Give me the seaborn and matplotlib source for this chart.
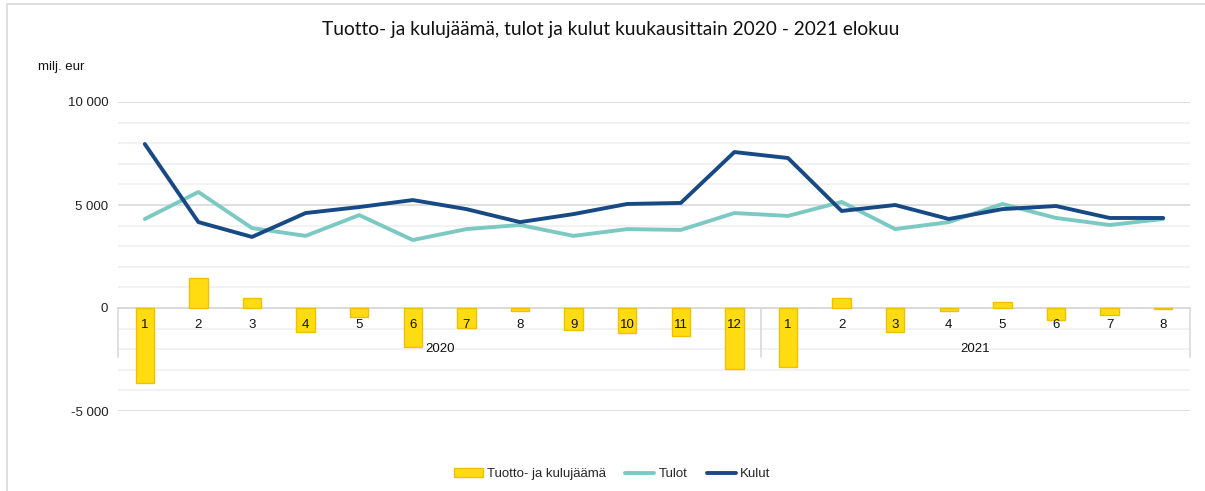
import matplotlib
matplotlib.use("Agg")
import matplotlib.pyplot as plt
import matplotlib.ticker as mticker
from matplotlib.lines import Line2D
from matplotlib.patches import Patch, Rectangle
import numpy as np
import pandas as pd
import seaborn as sns

# ---- data (milj. eur) ----
years = ["2020"] * 12 + ["2021"] * 8
months = [str(m) for m in range(1, 13)] + [str(m) for m in range(1, 9)]
saldo = [-3640, 1460, 470, -1150, -440, -1900, -970, -150, -1070, -1210, -1350, -2960,
         -2860, 480, -1160, -150, 280, -580, -340, -60]
tulot = [4320, 5630, 3880, 3500, 4510, 3300, 3830, 4030, 3500, 3830, 3790, 4610,
         4470, 5150, 3830, 4170, 5050, 4370, 4030, 4320]
kulut = [7960, 4170, 3450, 4610, 4900, 5240, 4800, 4170, 4560, 5050, 5100, 7570,
         7280, 4710, 5000, 4320, 4800, 4950, 4370, 4370]
yticks = [-5000, 0, 5000, 10000]
title = "Tuotto- ja kulujäämä, tulot ja kulut kuukausittain 2020 - 2021 elokuu"
unit = "milj. eur"
legend_labels = ["Tuotto- ja kulujäämä", "Tulot", "Kulut"]

df = pd.DataFrame({"year": years, "month": months, "saldo": saldo,
                   "tulot": tulot, "kulut": kulut})
df["key"] = df["year"] + "-" + df["month"]
df["pos"] = np.arange(len(df))

C_BAR = "#FFDC12"
C_BAR_EDGE = "#F0C000"
C_TULOT = "#7CC9C4"
C_KULUT = "#174A84"
C_GRID = "#D9D9D9"
C_MINOR = "#F0F0F0"

sns.set_theme(style="white")
plt.rcParams["font.family"] = ["Liberation Sans", "DejaVu Sans"]

fig = plt.figure(figsize=(12.05, 4.91), dpi=100)
ax = fig.add_axes([118 / 1205, 1 - 411 / 491, (1190 - 118) / 1205, (411 - 102) / 491])

sns.barplot(data=df, x="key", y="saldo", order=list(df["key"]), color=C_BAR,
            width=0.34, edgecolor=C_BAR_EDGE, linewidth=1.0, saturation=1,
            ax=ax, zorder=2)
sns.lineplot(data=df, x="pos", y="tulot", color=C_TULOT, lw=2.8, ax=ax, zorder=3)
sns.lineplot(data=df, x="pos", y="kulut", color=C_KULUT, lw=2.8, ax=ax, zorder=4)

ax.set_xlim(-0.5, len(df) - 0.5)
ax.set_ylim(min(yticks), max(yticks))
ax.set_xlabel("")
ax.set_ylabel("")

# gridlines
ax.yaxis.set_major_locator(mticker.FixedLocator(yticks))
ax.yaxis.set_minor_locator(mticker.MultipleLocator(1000))
ax.grid(axis="y", which="major", color=C_GRID, lw=1.2)
ax.grid(axis="y", which="minor", color=C_MINOR, lw=1.2)
ax.set_axisbelow(True)
ax.yaxis.set_major_formatter(mticker.FuncFormatter(
    lambda v, p: f"{int(v):,}".replace(",", " ")))
ax.tick_params(axis="y", which="both", length=0, pad=7, labelsize=9.5, colors="#222222")

for s in ["top", "right", "left"]:
    ax.spines[s].set_visible(False)
ax.spines["bottom"].set_position(("data", 0))
ax.spines["bottom"].set_color(C_GRID)
ax.spines["bottom"].set_linewidth(1.2)
ax.spines["bottom"].set_zorder(1)

ax.set_xticks(df["pos"])
ax.set_xticklabels(df["month"])
ax.tick_params(axis="x", length=0, pad=8, labelsize=9.5, colors="#111111")
ax.xaxis.set_zorder(10)

# year group separators and labels
n20 = years.count("2020")
seps = [-0.5, n20 - 0.5, len(df) - 0.5]
sep_bottom = -2400
for xs in seps:
    ax.plot([xs, xs], [0, sep_bottom], color=C_GRID, lw=1.2, zorder=1, clip_on=False)
for yr in ["2020", "2021"]:
    idx = df.index[df["year"] == yr]
    xc = (idx.min() + idx.max()) / 2
    ax.text(xc, -2000, yr, ha="center", va="center", fontsize=9.5, color="#111111",
            zorder=10)

# title, unit
fig.text(611 / 1205, 1 - 30 / 491, title, ha="center", va="center",
         fontsize=13.8, family=["Lato", "DejaVu Sans"], color="#111111")
fig.text(38 / 1205, 1 - 67 / 491, unit, ha="left", va="center", fontsize=9.5,
         color="#111111")

# legend
handles = [Patch(facecolor=C_BAR, edgecolor=C_BAR_EDGE, lw=1.0),
           Line2D([], [], color=C_TULOT, lw=2.8),
           Line2D([], [], color=C_KULUT, lw=2.8)]
fig.legend(handles, legend_labels, loc="center", bbox_to_anchor=(612 / 1205, 1 - 474 / 491),
           ncol=3, frameon=False, fontsize=9.5, handlelength=2.2, handleheight=0.7,
           handletextpad=0.3, columnspacing=1.5)

# chart border
fig.add_artist(Rectangle((7 / 1205, -0.05), 1.2, 1 - 4 / 491 + 0.05,
                         transform=fig.transFigure, fill=False, edgecolor=C_GRID, lw=1.2))

fig.savefig("out.png", dpi=100)
